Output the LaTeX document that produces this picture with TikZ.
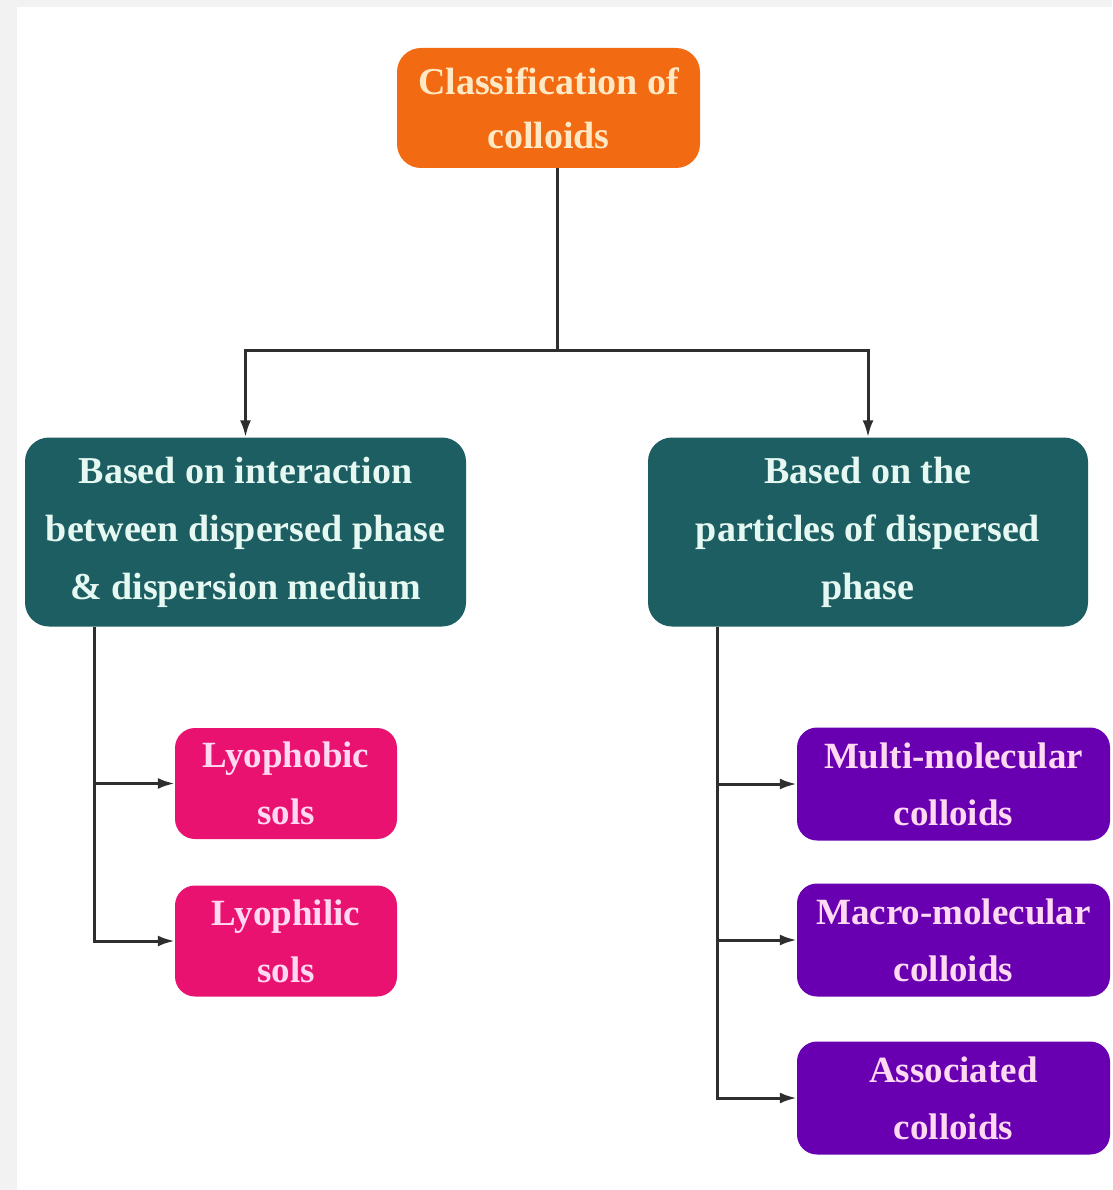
\documentclass[tikz,border=0pt]{standalone}
\usepackage{fontspec}
\setmainfont{Liberation Serif}
\usepackage{tikz}
\usetikzlibrary{arrows.meta,positioning}

\definecolor{frame}{HTML}{F2F2F2}
\definecolor{orangebox}{HTML}{F26A12}
\definecolor{orangetext}{HTML}{FFE8C4}
\definecolor{tealbox}{HTML}{1D5E62}
\definecolor{tealtext}{HTML}{E6F8F2}
\definecolor{pinkbox}{HTML}{EA1270}
\definecolor{purplebox}{HTML}{6800B2}
\definecolor{lighttext}{HTML}{FFD8F2}
\definecolor{wire}{HTML}{2E2E2E}

\begin{document}
\begin{tikzpicture}[
x=1pt, y=-1pt,
box/.style={rounded corners=24pt, align=center, inner sep=0pt, font=\bfseries\fontsize{38}{58}\selectfont},
topbox/.style={box, fill=orangebox, text=orangetext, minimum width=303pt, minimum height=120pt, font=\bfseries\fontsize{38}{54}\selectfont},
basisbox/.style={box, fill=tealbox, text=tealtext, minimum width=441pt, minimum height=189pt},
solbox/.style={box, rounded corners=20pt, fill=pinkbox, text=lighttext, minimum width=222pt, minimum height=111pt, font=\bfseries\fontsize{37}{57}\selectfont},
typebox/.style={box, rounded corners=20pt, fill=purplebox, text=lighttext, minimum width=313pt, minimum height=113pt, font=\bfseries\fontsize{37}{57}\selectfont},
line/.style={draw=wire, line width=3pt},
arrow/.style={line, -{Latex[length=17pt,width=11pt]}}
]
% page and frame
\useasboundingbox (0,0) rectangle (1112,1190);
\fill[frame] (0,0) rectangle (1112,1190);
\fill[white] (17,7) rectangle (1112,1190);

\node[topbox] (root) at (548.5,108) {Classification of\\colloids};
\node[basisbox] (interaction) at (245.5,532) {Based on interaction\\between dispersed phase\\\& dispersion medium};
\node[basisbox, minimum width=440pt] (particles) at (868,532) {Based on the\\particles of dispersed\\phase};

\node[solbox] (phobic) at (286,783.5) {Lyophobic\\sols};
\node[solbox] (philic) at (286,941) {Lyophilic\\sols};

\node[typebox] (multi) at (953.5,784) {Multi-molecular\\colloids};
\node[typebox] (macro) at (953.5,940) {Macro-molecular\\colloids};
\node[typebox] (assoc) at (953.5,1098) {Associated\\colloids};

\coordinate (split) at (557,350);
\coordinate (lefttrunk) at (94,627);
\coordinate (righttrunk) at (717,627);

\draw[line] (split |- root.south) -- (split);
\draw[arrow] (split) -| (interaction.north);
\draw[arrow] (split) -| (particles.north);

\draw[arrow] (lefttrunk) |- (phobic.west);
\draw[arrow] (lefttrunk) |- (philic.west);

\draw[arrow] (righttrunk) |- (multi.west);
\draw[arrow] (righttrunk) |- (macro.west);
\draw[arrow] (righttrunk) |- (assoc.west);
\end{tikzpicture}
\end{document}
